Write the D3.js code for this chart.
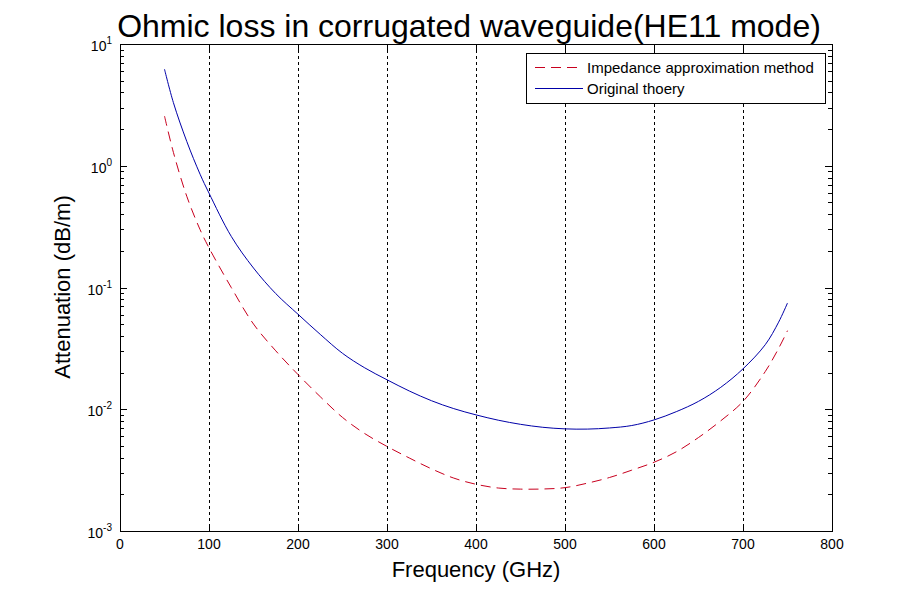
<!DOCTYPE html>
<html><head><meta charset="utf-8">
<script src="https://cdn.jsdelivr.net/npm/d3@7"></script>
<style>body{margin:0;background:#fff;}svg{display:block;font-family:Arial,"Liberation Sans",sans-serif;}</style>
</head><body><svg id="c" width="921" height="598"></svg>
<script>
const freq = [50,60,75,90,100,125,150,175,200,225,250,275,300,325,350,375,400,425,450,475,500,525,550,575,600,625,650,675,700,725,740,750];
const impedance = [2.56,1.288,0.562,0.2985,0.2118,0.100,0.0501,0.0302,0.01928,0.01268,0.00857,0.00631,0.00495,0.00398,0.00324,0.00272,0.00242,0.002254,0.002208,0.002213,0.00227,0.00247,0.00275,0.00316,0.00367,0.00447,0.00586,0.00804,0.01159,0.0204,0.0316,0.0442];
const original = [6.21,3.30,1.585,0.851,0.596,0.263,0.1445,0.0891,0.0603,0.0412,0.0288,0.02188,0.01746,0.01413,0.01175,0.01012,0.00899,0.00813,0.00752,0.00711,0.0069,0.00687,0.00702,0.00735,0.00817,0.00955,0.01161,0.01514,0.02148,0.0339,0.0519,0.0746];
const xTicks = [0,100,200,300,400,500,600,700,800];
const yExps = [-3,-2,-1,0,1];
const gridX = [100,200,300,400,500,600,700];
const seriesNames = ["Impedance approximation method","Original thoery"];

const svg = d3.select("#c");
const L=120, R=832, T=44, B=531;
const x = d3.scaleLinear().domain([0,800]).range([L,R]);
const y = d3.scaleLog().domain([1e-3,10]).range([B,T]);

// grid
svg.append("g").selectAll("line").data(gridX).join("line")
 .attr("x1",d=>Math.round(x(d))+0.5).attr("x2",d=>Math.round(x(d))+0.5).attr("y1",T).attr("y2",B)
 .attr("stroke","#000").attr("stroke-width",1).attr("stroke-dasharray","3,3");

// curves
const line = vals => d3.line().x((d,i)=>x(freq[i])).y(d=>y(d)).curve(d3.curveCatmullRom.alpha(0.5))(vals);
svg.append("path").attr("d",line(impedance)).attr("fill","none").attr("stroke","#c8001e").attr("stroke-width",1).attr("stroke-dasharray","10,6");
svg.append("path").attr("d",line(original)).attr("fill","none").attr("stroke","#0000a8").attr("stroke-width",1);

// box
svg.append("rect").attr("x",L+0.5).attr("y",T+0.5).attr("width",R-L).attr("height",B-T).attr("fill","none").attr("stroke","#000").attr("stroke-width",1);

// x ticks (inward, top and bottom)
const gx = svg.append("g");
xTicks.forEach(t=>{
  const px = Math.round(x(t))+0.5;
  gx.append("line").attr("x1",px).attr("x2",px).attr("y1",B).attr("y2",B-7).attr("stroke","#000");
  gx.append("line").attr("x1",px).attr("x2",px).attr("y1",T).attr("y2",T+7).attr("stroke","#000");
  gx.append("text").attr("x",x(t)).attr("y",B+18).attr("text-anchor","middle").attr("font-size",14).text(t);
});

// y ticks
const gy = svg.append("g");
yExps.forEach(e=>{
  const py = Math.round(y(Math.pow(10,e)))+0.5;
  gy.append("line").attr("x1",L).attr("x2",L+7).attr("y1",py).attr("y2",py).attr("stroke","#000");
  gy.append("line").attr("x1",R).attr("x2",R-7).attr("y1",py).attr("y2",py).attr("stroke","#000");
  const tx = gy.append("text").attr("x",L-8).attr("y",py+6).attr("text-anchor","end").attr("font-size",14);
  tx.append("tspan").text("10");
  tx.append("tspan").attr("dy",-7).attr("font-size",10).text(e);
  if(e<1){
    for(let m=2;m<=9;m++){
      const my = Math.round(y(m*Math.pow(10,e)))+0.5;
      gy.append("line").attr("x1",L).attr("x2",L+4).attr("y1",my).attr("y2",my).attr("stroke","#000");
      gy.append("line").attr("x1",R).attr("x2",R-4).attr("y1",my).attr("y2",my).attr("stroke","#000");
    }
  }
});

// title & labels
svg.append("text").attr("x",469).attr("y",37).attr("text-anchor","middle").attr("font-size",32).text("Ohmic loss in corrugated waveguide(HE11 mode)");
svg.append("text").attr("x",476).attr("y",577).attr("text-anchor","middle").attr("font-size",22).text("Frequency (GHz)");
svg.append("text").attr("transform","translate(70,287) rotate(-90)").attr("text-anchor","middle").attr("font-size",22).text("Attenuation (dB/m)");

// legend
const lg = svg.append("g");
lg.append("rect").attr("x",526.5).attr("y",53.5).attr("width",299).attr("height",50).attr("fill","#fff").attr("stroke","#000");
const lstyles = [{c:"#c8001e",d:"10,6"},{c:"#0000a8",d:null}];
seriesNames.forEach((n,i)=>{
  const yy = 67.5+i*21;
  const l = lg.append("line").attr("x1",535).attr("x2",583).attr("y1",yy).attr("y2",yy).attr("stroke",lstyles[i].c);
  if(lstyles[i].d) l.attr("stroke-dasharray",lstyles[i].d);
  lg.append("text").attr("x",587).attr("y",yy+5).attr("font-size",15).text(n);
});
</script></body></html>
